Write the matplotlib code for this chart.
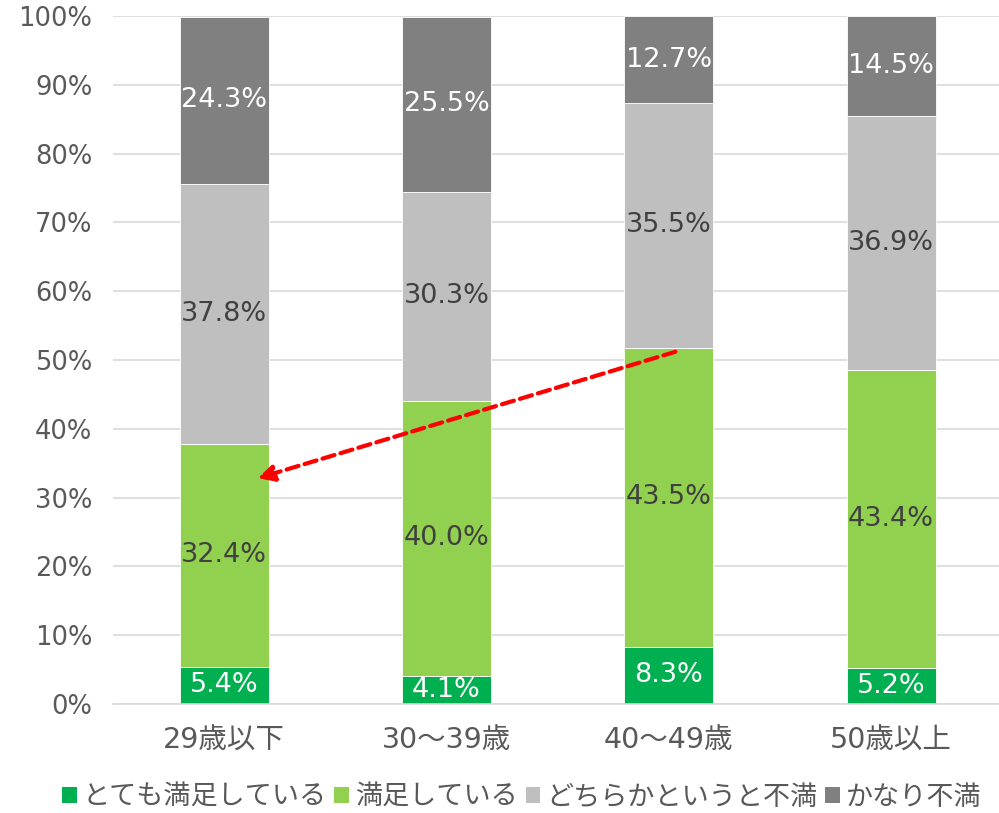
import numpy as np
import matplotlib
matplotlib.use("Agg")
import matplotlib.pyplot as plt
from matplotlib.patches import Patch

plt.rcParams['font.family'] = ['DejaVu Sans', 'Noto Sans CJK JP']

categories = ['29歳以下', '30～39歳', '40～49歳', '50歳以上']
series_names = ['とても満足している', '満足している', 'どちらかというと不満', 'かなり不満']
very_satisfied = [5.4, 4.1, 8.3, 5.2]
satisfied = [32.4, 40.0, 43.5, 43.4]
somewhat_unsat = [37.8, 30.3, 35.5, 36.9]
very_unsat = [24.3, 25.5, 12.7, 14.5]

colors = ['#00B050', '#92D050', '#BFBFBF', '#808080']
label_colors = ['white', '#404040', '#404040', 'white']

fig = plt.figure(figsize=(9.99, 8.13), dpi=100)
ax = fig.add_axes([113 / 999, 1 - 704 / 813, 1 - 113 / 999, (704 - 16) / 813])

x = np.arange(len(categories))
bottom = np.zeros(len(categories))
for vals, col, lc in zip([very_satisfied, satisfied, somewhat_unsat, very_unsat], colors, label_colors):
    vals = np.array(vals)
    ax.bar(x, vals, width=0.40, bottom=bottom, color=col, edgecolor='white', linewidth=0.6, zorder=2)
    for xi, b, v in zip(x, bottom, vals):
        ax.text(xi, b + v / 2, f'{v:.1f}%', ha='center', va='center', color=lc, fontsize=19.5, zorder=3)
    bottom += vals

ax.set_xlim(-0.5, -0.5 + (999 - 113) / 222.3)
ax.set_ylim(0, 100)
ax.set_yticks(np.arange(0, 101, 10))
ax.set_yticklabels([f'{t}%' for t in range(0, 101, 10)])
ax.set_xticks(x)
ax.set_xticklabels(categories)
ax.tick_params(axis='both', length=0, colors='#595959')
ax.tick_params(axis='y', pad=15, labelsize=18.5)
ax.tick_params(axis='x', pad=16, labelsize=20.5)
ax.grid(axis='y', color='#D9D9D9', linewidth=1.2, zorder=0)
ax.set_axisbelow(True)
for s in ['top', 'right', 'left']:
    ax.spines[s].set_visible(False)
ax.spines['bottom'].set_color('#D9D9D9')
ax.spines['bottom'].set_linewidth(1.2)

# red dashed arrow
ax.annotate('', xy=(0.15, 32.8), xytext=(2.03, 51.2),
            arrowprops=dict(arrowstyle='-|>', color='red', lw=3, linestyle=(0, (3, 1.5)),
                            mutation_scale=24, shrinkA=0, shrinkB=0), zorder=4)

handles = [Patch(facecolor=c, edgecolor='none') for c in colors]
fig.legend(handles, series_names, loc='center', bbox_to_anchor=(0.522, 1 - 797 / 813), ncol=4,
           frameon=False, prop={'family': 'Noto Sans CJK JP', 'size': 19.5},
           handlelength=0.55, handleheight=0.55, handletextpad=0.2,
           columnspacing=0.3, labelcolor='#595959')

fig.savefig('out.png', dpi=100)
